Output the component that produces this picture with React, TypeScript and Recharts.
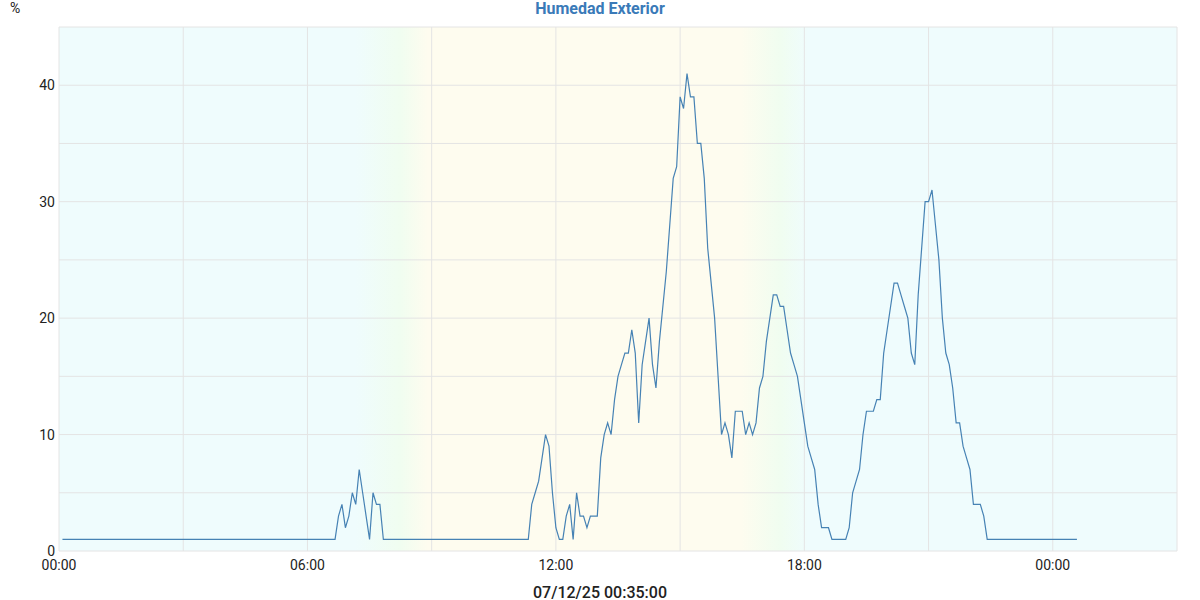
import React from 'react';
import { LineChart, Line, XAxis, YAxis, CartesianGrid } from 'recharts';

// readings every 5 min, only the turning points are listed (flat runs collapse)
const times = [
  '00:05', '06:40', '06:45', '06:50', '06:55', '07:00', '07:05', '07:10', '07:15', '07:20',
  '07:25', '07:30', '07:35', '07:40', '07:45', '07:50', '11:20', '11:25', '11:30', '11:35',
  '11:40', '11:45', '11:50', '11:55', '12:00', '12:05', '12:10', '12:15', '12:20', '12:25',
  '12:30', '12:35', '12:40', '12:45', '12:50', '12:55', '13:00', '13:05', '13:10', '13:15',
  '13:20', '13:25', '13:30', '13:35', '13:40', '13:45', '13:50', '13:55', '14:00', '14:05',
  '14:10', '14:15', '14:20', '14:25', '14:30', '14:35', '14:40', '14:45', '14:50', '14:55',
  '15:00', '15:05', '15:10', '15:15', '15:20', '15:25', '15:30', '15:35', '15:40', '15:45',
  '15:50', '15:55', '16:00', '16:05', '16:10', '16:15', '16:20', '16:25', '16:30', '16:35',
  '16:40', '16:45', '16:50', '16:55', '17:00', '17:05', '17:10', '17:15', '17:20', '17:25',
  '17:30', '17:35', '17:40', '17:45', '17:50', '17:55', '18:00', '18:05', '18:10', '18:15',
  '18:20', '18:25', '18:30', '18:35', '18:40', '19:00', '19:05', '19:10', '19:15', '19:20',
  '19:25', '19:30', '19:35', '19:40', '19:45', '19:50', '19:55', '20:00', '20:05', '20:10',
  '20:15', '20:20', '20:25', '20:30', '20:35', '20:40', '20:45', '20:50', '20:55', '21:00',
  '21:05', '21:10', '21:15', '21:20', '21:25', '21:30', '21:35', '21:40', '21:45', '21:50',
  '21:55', '22:00', '22:05', '22:10', '22:15', '22:20', '22:25', '24:35',
];

const humidity = [
  1, 1, 3, 4, 2, 3, 5, 4, 7, 5,
  3, 1, 5, 4, 4, 1, 1, 4, 5, 6,
  8, 10, 9, 5, 2, 1, 1, 3, 4, 1,
  5, 3, 3, 2, 3, 3, 3, 8, 10, 11,
  10, 13, 15, 16, 17, 17, 19, 17, 11, 16,
  18, 20, 16, 14, 18, 21, 24, 28, 32, 33,
  39, 38, 41, 39, 39, 35, 35, 32, 26, 23,
  20, 15, 10, 11, 10, 8, 12, 12, 12, 10,
  11, 10, 11, 14, 15, 18, 20, 22, 22, 21,
  21, 19, 17, 16, 15, 13, 11, 9, 8, 7,
  4, 2, 2, 2, 1, 1, 2, 5, 6, 7,
  10, 12, 12, 12, 13, 13, 17, 19, 21, 23,
  23, 22, 21, 20, 17, 16, 22, 26, 30, 30,
  31, 28, 25, 20, 17, 16, 14, 11, 11, 9,
  8, 7, 4, 4, 4, 3, 1, 1,
];

const xTicks = [0, 3, 6, 9, 12, 15, 18, 21, 24, 27];
const yTicks = [0, 5, 10, 15, 20, 25, 30, 35, 40, 45];

const toHours = (s: string) => {
  const [h, m] = s.split(':').map(Number);
  return h + m / 60;
};

const data = times.map((t, i) => ({ t: toHours(t), v: humidity[i] }));

const fmtX = (h: number) => (h % 6 === 0 ? String(h % 24).padStart(2, '0') + ':00' : '');
const fmtY = (v: number) => (v % 10 === 0 && v < 45 ? String(v) : '');

export default function App() {
  const font = 'Roboto, sans-serif';
  return (
    <div style={{ position: 'absolute', left: 0, top: 0, width: 1200, height: 600, fontFamily: font, background: '#fff' }}>
      <div style={{ position: 'absolute', left: 10, top: 0, fontSize: 14, color: '#222' }}>%</div>
      <div style={{ position: 'absolute', left: 0, top: -1, width: 1200, textAlign: 'center', fontSize: 16, fontWeight: 700, color: '#3a7ab8' }}>
        Humedad Exterior
      </div>
      <LineChart width={1200} height={600} data={data} margin={{ top: 27, right: 23, left: 0, bottom: 19 }}>
        <defs>
          <linearGradient id="dayNight" x1="0" y1="0" x2="1" y2="0">
            <stop offset="0%" stopColor="#effcfd" />
            <stop offset="26.5%" stopColor="#effcfd" />
            <stop offset="30.5%" stopColor="#f0fdf0" />
            <stop offset="33%" stopColor="#fefcef" />
            <stop offset="61%" stopColor="#fefcef" />
            <stop offset="64.5%" stopColor="#f0fdf0" />
            <stop offset="67%" stopColor="#effcfd" />
            <stop offset="100%" stopColor="#effcfd" />
          </linearGradient>
        </defs>
        <CartesianGrid fill="url(#dayNight)" stroke="#e4e4e4" strokeWidth={1} />
        <XAxis
          dataKey="t"
          type="number"
          domain={[0, 27]}
          ticks={xTicks}
          tickFormatter={fmtX}
          interval={0}
          axisLine={false}
          tickLine={false}
          tickSize={0}
          tickMargin={9}
          height={30}
          tick={{ fill: '#222', fontSize: 14, fontFamily: font }}
        />
        <YAxis
          type="number"
          domain={[0, 45]}
          ticks={yTicks}
          tickFormatter={fmtY}
          interval={0}
          axisLine={false}
          tickLine={false}
          tickSize={0}
          tickMargin={4}
          width={59}
          tick={{ fill: '#222', fontSize: 14, fontFamily: font }}
        />
        <Line
          type="linear"
          dataKey="v"
          stroke="#4682b4"
          strokeWidth={1.2}
          dot={false}
          isAnimationActive={false}
        />
      </LineChart>
      <div style={{ position: 'absolute', left: 0, top: 583, width: 1200, textAlign: 'center', fontSize: 16, fontWeight: 500, color: '#222' }}>
        07/12/25 00:35:00
      </div>
    </div>
  );
}
